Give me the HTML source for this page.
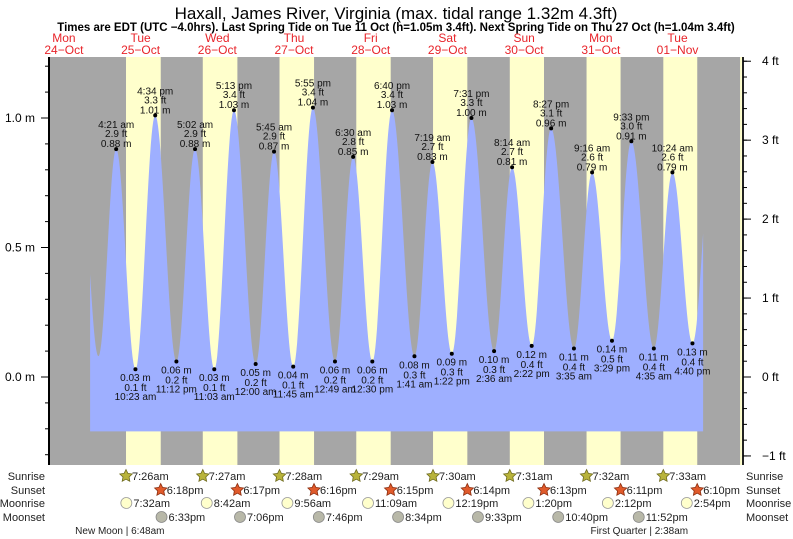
<!DOCTYPE html>
<html><head><meta charset="utf-8">
<style>
html,body{margin:0;padding:0;background:#fff;}
svg{display:block;font-family:"Liberation Sans",sans-serif;}
</style></head>
<body>
<svg id="chart" width="793" height="539" viewBox="0 0 793 539" xmlns="http://www.w3.org/2000/svg">
<text x="396" y="19" text-anchor="middle" font-size="17" fill="#000">Haxall, James River, Virginia (max. tidal range 1.32m 4.3ft)</text>
<text x="396" y="31" text-anchor="middle" font-size="11.5" font-weight="bold" fill="#000">Times are EDT (UTC −4.0hrs). Last Spring Tide on Tue 11 Oct (h=1.05m 3.4ft). Next Spring Tide on Thu 27 Oct (h=1.04m 3.4ft)</text>
<g id="days"></g>
<g id="plot"></g>
<g id="axes"></g>
<g id="labels"></g>
<g id="astro"></g>
</svg>
<script>
// ---- data ----
const dayNames = ["Mon","Tue","Wed","Thu","Fri","Sat","Sun","Mon","Tue"];
const dayDates = ["24\u2212Oct","25\u2212Oct","26\u2212Oct","27\u2212Oct","28\u2212Oct","29\u2212Oct","30\u2212Oct","31\u2212Oct","01\u2212Nov"];
const sunriseDay = [1,2,3,4,5,6,7,8,9];
const sunriseHour = [7.433,7.45,7.467,7.483,7.5,7.517,7.533,7.55,7.567];
const sunsetHour = [18.3,18.283,18.267,18.25,18.233,18.217,18.183,18.167,18.15];
const sunriseText = ["7:26am","7:27am","7:28am","7:29am","7:30am","7:31am","7:32am","7:33am",""];
const sunsetText = ["6:18pm","6:17pm","6:16pm","6:15pm","6:14pm","6:13pm","6:11pm","6:10pm",""];
const moonriseHour = [31.533,56.7,81.933,107.15,132.317,157.333,182.2,206.9];
const moonriseText = ["7:32am","8:42am","9:56am","11:09am","12:19pm","1:20pm","2:12pm","2:54pm"];
const moonsetHour = [42.55,67.1,91.767,116.567,141.55,166.667,191.867];
const moonsetText = ["6:33pm","7:06pm","7:46pm","8:34pm","9:33pm","10:40pm","11:52pm"];
const phaseHour = [30.8,194.633];
const phaseText = ["New Moon","First Quarter"];
const phaseTime = ["6:48am","2:38am"];
const tideHours = [16.5,22.8,28.35,34.383,40.567,47.2,53.033,59.05,65.217,72.0,77.75,83.75,89.917,96.817,102.5,108.5,114.667,121.683,127.317,133.367,139.517,146.6,152.233,158.367,164.45,171.583,177.267,183.483,189.55,196.583,202.4,208.667,215.2];
const tideMeters = [0.95,0.08,0.88,0.03,1.01,0.06,0.88,0.03,1.03,0.05,0.87,0.04,1.04,0.06,0.85,0.06,1.03,0.08,0.83,0.09,1.00,0.10,0.81,0.12,0.96,0.11,0.79,0.14,0.91,0.11,0.79,0.13,0.95];
const tideFeet = ["","","2.9","0.1","3.3","0.2","2.9","0.1","3.4","0.2","2.9","0.1","3.4","0.2","2.8","0.2","3.4","0.3","2.7","0.3","3.3","0.3","2.7","0.4","3.1","0.4","2.6","0.5","3.0","0.4","2.6","0.4",""];
const tideTimes = ["","","4:21 am","10:23 am","4:34 pm","11:12 pm","5:02 am","11:03 am","5:13 pm","12:00 am","5:45 am","11:45 am","5:55 pm","12:49 am","6:30 am","12:30 pm","6:40 pm","1:41 am","7:19 am","1:22 pm","7:31 pm","2:36 am","8:14 am","2:22 pm","8:27 pm","3:35 am","9:16 am","3:29 pm","9:33 pm","4:35 am","10:24 am","4:40 pm",""];
const meterTicks = [0.0,0.5,1.0];
const meterTickLabels = ["0.0 m","0.5 m","1.0 m"];
const feetTicks = [-1,0,1,2,3,4];
const feetTickLabels = ["\u22121 ft","0 ft","1 ft","2 ft","3 ft","4 ft"];

// ---- scales ----
const X0=25.55, PXH=3.196;
function xs(h){return X0+h*PXH;}
const Y0=377, PXM=259;
function ym(m){return Y0-m*PXM;}
function yf(f){return ym(f*0.3048);}
const PL=49, PR=742, PT=57, PB=465;
const blueStart=20.2, blueEnd=212.0, blueBottom=-0.21;
const NS="http://www.w3.org/2000/svg";
function mk(tag,attrs,parent,txt){const e=document.createElementNS(NS,tag);for(const k in attrs)e.setAttribute(k,attrs[k]);if(txt!==undefined)e.textContent=txt;parent.appendChild(e);return e;}
const gDays=document.getElementById('days'),gPlot=document.getElementById('plot'),gAxes=document.getElementById('axes'),gLab=document.getElementById('labels'),gAstro=document.getElementById('astro');

dayNames.forEach((d,i)=>{
  const cx=xs(i*24+12);
  const t1=mk('text',{x:cx,y:42,'text-anchor':'middle','font-size':12,fill:'#e8242a'},gDays,d);
  
  
  const t2=mk('text',{x:cx,y:54,'text-anchor':'middle','font-size':12,fill:'#e8242a'},gDays,dayDates[i]);
  
  
});

const bg=mk('rect',{x:PL,y:PT,width:PR-PL,height:PB-PT,fill:'#a6a6a6'},gPlot);


const clip=mk('clipPath',{id:'pc'},gPlot);mk('rect',{x:PL,y:PT,width:PR-PL,height:PB-PT},clip);
const inner=mk('g',{'clip-path':'url(#pc)'},gPlot);
sunriseDay.forEach((d,i)=>{
  const x1=xs(d*24+sunriseHour[i]),x2=xs(d*24+sunsetHour[i]);
  const r=mk('rect',{x:x1,y:PT,width:x2-x1,height:PB-PT,fill:'#ffffcc'},inner);
  
  
});
function shape(t){return (1-Math.cos(Math.PI*t))/2;}
function valAt(h){for(let i=0;i<tideHours.length-1;i++){if(h>=tideHours[i]&&h<=tideHours[i+1]){const t=(h-tideHours[i])/(tideHours[i+1]-tideHours[i]);return tideMeters[i]+(tideMeters[i+1]-tideMeters[i])*shape(t);}}return 0;}
let d='M'+xs(blueStart)+','+ym(blueBottom);
for(let h=blueStart;h<=blueEnd;h+=0.25){d+=' L'+xs(h).toFixed(1)+','+ym(valAt(h)).toFixed(1);}
d+=' L'+xs(blueEnd)+','+ym(valAt(blueEnd))+' L'+xs(blueEnd)+','+ym(blueBottom)+' Z';
const area=mk('path',{d:d,fill:'#9eafff'},inner);



tideHours.forEach((h,i)=>{
  if(!tideTimes[i])return;
  const x=xs(h),y=ym(tideMeters[i]);
  const dot=mk('circle',{cx:x,cy:y,r:2,fill:'#000'},gLab);
  
  
  const high=i>0&&tideMeters[i]>tideMeters[i-1];
  const lines=high?[tideTimes[i],tideFeet[i]+' ft',tideMeters[i].toFixed(2)+' m']:[tideMeters[i].toFixed(2)+' m',tideFeet[i]+' ft',tideTimes[i]];
  const offs=high?[-21,-12,-2]:[12,22,31];
  lines.forEach((s,j)=>{
    const t=mk('text',{x:x,y:y+offs[j],'text-anchor':'middle','font-size':10,fill:'#111'},gLab,s);
    
    
  });
});

const la=mk('line',{x1:PL,y1:PT,x2:PL,y2:PB,stroke:'#000','stroke-width':2},gAxes);


const ra=mk('line',{x1:PR+1,y1:PT,x2:PR+1,y2:PB,stroke:'#222','stroke-width':2},gAxes);


for(let m=-0.3;m<=1.21;m+=0.1){const y=ym(m);if(y<PT||y>PB)continue;mk('line',{x1:PL-4,y1:y,x2:PL,y2:y,stroke:'#000'},gAxes);}
meterTicks.forEach((m,i)=>{const y=ym(m);mk('line',{x1:PL-8,y1:y,x2:PL,y2:y,stroke:'#000'},gAxes);
  const t=mk('text',{x:35,y:y+4,'text-anchor':'end','font-size':12,fill:'#000'},gAxes,meterTickLabels[i]);
  
  });
for(let f=-1.2;f<=4.05;f+=0.2){const y=yf(f);if(y<PT||y>PB)continue;mk('line',{x1:PR+1,y1:y,x2:PR+5,y2:y,stroke:'#000'},gAxes);}
feetTicks.forEach((f,i)=>{const y=yf(f);mk('line',{x1:PR+1,y1:y,x2:PR+9,y2:y,stroke:'#000'},gAxes);
  const t=mk('text',{x:762,y:y+4,'font-size':12,fill:'#000'},gAxes,feetTickLabels[i]);
  
  });

const FS=11;
const rows=[["Sunrise",480],["Sunset",494],["Moonrise",507],["Moonset",521]];
rows.forEach(r=>{
  const a=mk('text',{x:45,y:r[1],'text-anchor':'end','font-size':FS,fill:'#222'},gAstro,r[0]);
  
  
  const b=mk('text',{x:746,y:r[1],'font-size':FS,fill:'#222'},gAstro,r[0]);
  
  
});
function star(cx,cy,fill,stroke){let p='';for(let k=0;k<10;k++){const a=-Math.PI/2+k*Math.PI/5;const r=k%2?3.2:6.5;p+=(cx+r*Math.cos(a)).toFixed(1)+','+(cy+r*Math.sin(a)).toFixed(1)+' ';}
  return mk('polygon',{points:p,fill:fill,stroke:stroke,'stroke-width':0.8},gAstro);}
sunriseDay.forEach((dd,i)=>{
  if(sunriseText[i]){const x=xs(dd*24+sunriseHour[i]);const s=star(x,476,'#b8b33a','#6d6a1e');
    
    
    const t=mk('text',{x:x+6,y:480,'font-size':FS,fill:'#222'},gAstro,sunriseText[i]);
    
    }
  if(sunsetText[i]){const x=xs(dd*24+sunsetHour[i]);const s=star(x,490,'#e05a2b','#8a2e10');
    
    
    const t=mk('text',{x:x+6,y:494,'font-size':FS,fill:'#222'},gAstro,sunsetText[i]);
    
    }
});
moonriseHour.forEach((h,i)=>{const x=xs(h);const c=mk('circle',{cx:x,cy:503,r:5.5,fill:'#ffffcc',stroke:'#999','stroke-width':0.8},gAstro);
  
  
  const t=mk('text',{x:x+7,y:507,'font-size':FS,fill:'#222'},gAstro,moonriseText[i]);
  
  });
moonsetHour.forEach((h,i)=>{const x=xs(h);const c=mk('circle',{cx:x,cy:517,r:5.5,fill:'#b8b8a8',stroke:'#888','stroke-width':0.8},gAstro);
  
  
  const t=mk('text',{x:x+7,y:521,'font-size':FS,fill:'#222'},gAstro,moonsetText[i]);
  
  });
phaseHour.forEach((h,i)=>{const x=xs(h);
  const t=mk('text',{x:x,y:534,'text-anchor':'middle','font-size':10,fill:'#222'},gAstro,phaseText[i]+' | '+phaseTime[i]);
  
  
  const w=t.getComputedTextLength?t.getComputedTextLength():0;
  const pre=mk('text',{x:-100,y:-100,'font-size':10},gAstro,phaseText[i]+' ');
  const pw=pre.getComputedTextLength?pre.getComputedTextLength():0;gAstro.removeChild(pre);
  if(w>0){t.setAttribute('text-anchor','start');t.setAttribute('x',x-pw-1);}
});
</script>
</body></html>
